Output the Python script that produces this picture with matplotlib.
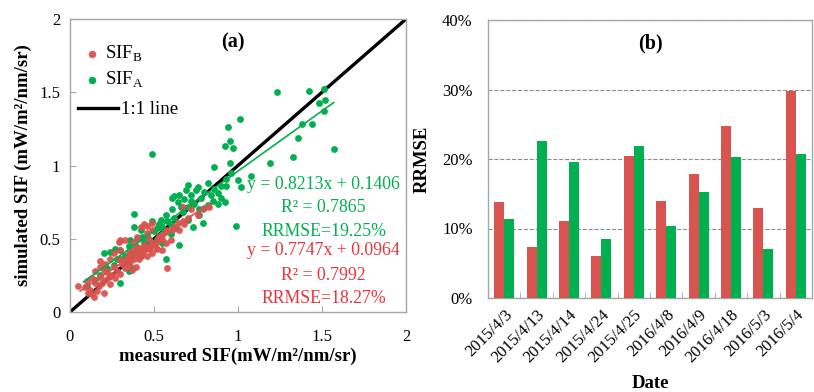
import matplotlib
matplotlib.use("Agg")
import matplotlib.pyplot as plt
import numpy as np
from matplotlib.ticker import PercentFormatter

plt.rcParams['font.family'] = ['Liberation Serif', 'DejaVu Serif']
plt.rcParams['mathtext.fontset'] = 'custom'
plt.rcParams['mathtext.rm'] = 'Liberation Serif'

RED = '#d9534f'
GREEN = '#00b050'
EDGE = '#a6a6a6'

# --- panel (a): measured vs simulated SIF ---
sif_a = [
    (0.49, 1.08), (1.23, 1.50), (1.42, 1.51), (1.51, 1.52), (1.52, 1.45), (1.48, 1.43),
    (1.51, 1.37), (1.38, 1.28), (1.44, 1.28), (1.36, 1.19), (1.33, 1.06), (1.19, 1.02),
    (1.57, 1.11), (1.01, 1.32), (0.94, 1.26), (0.95, 1.17), (0.92, 1.13), (0.97, 1.12),
    (0.95, 1.02), (0.86, 0.99), (0.96, 0.95), (1.00, 0.90), (1.08, 0.93), (1.02, 0.85),
    (0.93, 0.91), (0.99, 0.59),
    (0.70, 0.87), (0.76, 0.85), (0.82, 0.88), (0.69, 0.83), (0.62, 0.79), (0.61, 0.78),
    (0.65, 0.80), (0.72, 0.80), (0.75, 0.83), (0.78, 0.78), (0.80, 0.82), (0.84, 0.80),
    (0.86, 0.84), (0.88, 0.81), (0.90, 0.78), (0.92, 0.75), (0.85, 0.76), (0.82, 0.73),
    (0.88, 0.74), (0.90, 0.86), (0.93, 0.86), (0.80, 0.71), (0.77, 0.70), (0.74, 0.74),
    (0.70, 0.72), (0.67, 0.68), (0.61, 0.70), (0.64, 0.75), (0.77, 0.66), (0.79, 0.61),
    (0.73, 0.58), (0.70, 0.63), (0.65, 0.46), (0.57, 0.36),
    (0.55, 0.58), (0.54, 0.63), (0.49, 0.62), (0.38, 0.67), (0.38, 0.58), (0.43, 0.51),
    (0.36, 0.49), (0.30, 0.42), (0.24, 0.41), (0.20, 0.40), (0.30, 0.36), (0.37, 0.30),
    (0.30, 0.20), (0.10, 0.18), (0.42, 0.38), (0.45, 0.45), (0.48, 0.48), (0.52, 0.50),
    (0.55, 0.53), (0.58, 0.55), (0.60, 0.60), (0.57, 0.66), (0.52, 0.57), (0.47, 0.44),
    (0.44, 0.48), (0.40, 0.44), (0.35, 0.45), (0.33, 0.38), (0.28, 0.36), (0.26, 0.32),
    (0.22, 0.30), (0.18, 0.25), (0.15, 0.22), (0.50, 0.55), (0.53, 0.60), (0.58, 0.62),
    (0.62, 0.64), (0.66, 0.72), (0.68, 0.77), (0.72, 0.76), (0.35, 0.28), (0.42, 0.56),
    (0.46, 0.52), (0.40, 0.50), (0.38, 0.40), (0.27, 0.43), (0.55, 0.47), (0.60, 0.53),
    (0.63, 0.57),
]
sif_b = [
    (0.05, 0.18), (0.09, 0.17), (0.12, 0.15), (0.14, 0.10), (0.13, 0.12), (0.20, 0.13),
    (0.15, 0.20), (0.18, 0.24), (0.22, 0.27), (0.20, 0.29), (0.18, 0.35), (0.26, 0.31),
    (0.29, 0.36), (0.30, 0.42), (0.29, 0.48), (0.33, 0.49), (0.35, 0.40), (0.40, 0.42),
    (0.40, 0.51), (0.46, 0.54), (0.49, 0.56), (0.54, 0.51), (0.36, 0.34), (0.39, 0.31),
    (0.37, 0.29), (0.42, 0.38), (0.58, 0.30), (0.60, 0.49), (0.61, 0.56), (0.64, 0.61),
    (0.67, 0.62), (0.70, 0.64), (0.76, 0.66), (0.79, 0.70), (0.49, 0.61), (0.46, 0.59),
    (0.67, 0.72), (0.72, 0.70), (0.83, 0.72),
    (0.32, 0.35), (0.34, 0.37), (0.36, 0.38), (0.38, 0.36), (0.40, 0.39), (0.41, 0.36),
    (0.43, 0.40), (0.44, 0.42), (0.45, 0.44), (0.47, 0.43), (0.48, 0.46), (0.50, 0.47),
    (0.52, 0.48), (0.51, 0.44), (0.53, 0.52), (0.55, 0.50), (0.56, 0.54), (0.44, 0.46),
    (0.42, 0.44), (0.39, 0.45), (0.37, 0.42), (0.35, 0.32), (0.33, 0.30), (0.31, 0.33),
    (0.28, 0.28), (0.25, 0.25), (0.23, 0.24), (0.21, 0.22), (0.19, 0.20), (0.17, 0.18),
    (0.16, 0.14), (0.11, 0.13), (0.10, 0.21), (0.24, 0.19), (0.27, 0.23), (0.30, 0.26),
    (0.44, 0.60), (0.42, 0.58), (0.47, 0.50), (0.49, 0.40), (0.46, 0.38), (0.52, 0.43),
    (0.57, 0.47), (0.58, 0.56), (0.62, 0.58), (0.65, 0.56), (0.68, 0.60), (0.55, 0.42),
    (0.38, 0.48), (0.30, 0.49), (0.26, 0.40), (0.24, 0.36), (0.21, 0.33), (0.18, 0.31),
    (0.15, 0.28), (0.13, 0.23),
]
fit_a = (0.8213, 0.1406, 0.7865, 19.25)   # slope, intercept, R2, RRMSE%
fit_b = (0.7747, 0.0964, 0.7992, 18.27)
fit_a_range = (0.08, 1.57)
fit_b_range = (0.06, 0.83)

# --- panel (b): RRMSE by date ---
dates = ['2015/4/3', '2015/4/13', '2015/4/14', '2015/4/24', '2015/4/25',
         '2016/4/8', '2016/4/9', '2016/4/18', '2016/5/3', '2016/5/4']
rrmse_b = [13.8, 7.4, 11.1, 6.0, 20.5, 13.9, 17.8, 24.8, 12.9, 29.8]
rrmse_a = [11.3, 22.6, 19.5, 8.5, 21.9, 10.3, 15.3, 20.3, 7.0, 20.7]

fig = plt.figure(figsize=(8.14, 3.92), dpi=100)

# ---------------- (a) ----------------
ax = fig.add_axes([70 / 814, 80 / 392, 336 / 814, 293 / 392])
ga = np.array(sif_a)
gb = np.array(sif_b)
one, = ax.plot([0, 2], [0, 2], color='black', lw=2.4, zorder=2, label='1:1 line')
sa = ax.scatter(ga[:, 0], ga[:, 1], s=24, color=GREEN, lw=0, zorder=3, label=r'SIF$_\mathrm{A}$')
sb = ax.scatter(gb[:, 0], gb[:, 1], s=24, color=RED, lw=0, alpha=0.95, zorder=4, label=r'SIF$_\mathrm{B}$')
xa = np.array(fit_a_range)
ax.plot(xa, fit_a[0] * xa + fit_a[1], color=GREEN, lw=1.2, zorder=5)
xb = np.array(fit_b_range)
ax.plot(xb, fit_b[0] * xb + fit_b[1], color=RED, lw=1.2, zorder=5)

ax.set_xlim(0, 2)
ax.set_ylim(0, 2)
ax.set_xticks([0, 0.5, 1, 1.5, 2])
ax.set_yticks([0, 0.5, 1, 1.5, 2])
ax.set_xticklabels(['0', '0.5', '1', '1.5', '2'])
ax.set_yticklabels(['0', '0.5', '1', '1.5', '2'])
ax.tick_params(direction='in', length=4, color=EDGE, labelsize=12)
ax.tick_params(axis='x', pad=12)
ax.tick_params(axis='y', pad=7)
for s in ax.spines.values():
    s.set_color(EDGE)
    s.set_linewidth(1.0)
ax.set_xlabel('measured SIF(mW/m²/nm/sr)', fontsize=13.5, fontweight='bold', labelpad=2)
ax.set_ylabel('simulated SIF (mW/m²/nm/sr)', fontsize=13.5, fontweight='bold', labelpad=5)
ax.text(0.97, 1.84, '(a)', fontsize=14.5, fontweight='bold', ha='center', va='center')

leg1 = ax.legend([sb, sa], [sb.get_label(), sa.get_label()], loc='upper left',
                 frameon=False, fontsize=13.5, handlelength=0.8, handletextpad=0.3,
                 labelspacing=0.3, borderpad=0, borderaxespad=0,
                 bbox_to_anchor=(0.043, 0.916), markerscale=1.1)
ax.add_artist(leg1)
ax.legend([one], ['1:1 line'], loc='upper left', frameon=False, fontsize=13.5,
          handlelength=2.13, handletextpad=0.15, borderpad=0, borderaxespad=0,
          bbox_to_anchor=(0.024, 0.72))

tx = 1.51
fs = 12.8
ax.text(tx, 0.87, f'y = {fit_a[0]:.4f}x + {fit_a[1]:.4f}', color=GREEN, fontsize=fs, ha='center', va='center')
ax.text(tx, 0.71, f'R² = {fit_a[2]:.4f}', color=GREEN, fontsize=fs, ha='center', va='center')
ax.text(tx, 0.55, f'RRMSE={fit_a[3]:.2f}%', color=GREEN, fontsize=fs, ha='center', va='center')
ax.text(tx, 0.42, f'y = {fit_b[0]:.4f}x + {fit_b[1]:.4f}', color='#e8333a', fontsize=fs, ha='center', va='center')
ax.text(tx, 0.25, f'R² = {fit_b[2]:.4f}', color='#e8333a', fontsize=fs, ha='center', va='center')
ax.text(tx, 0.09, f'RRMSE={fit_b[3]:.2f}%', color='#e8333a', fontsize=fs, ha='center', va='center')

# ---------------- (b) ----------------
bx = fig.add_axes([488 / 814, 94 / 392, 324 / 814, 278 / 392])
pos = np.arange(len(dates))
w = 0.31
bx.bar(pos - w / 2, rrmse_b, width=w, color=RED, zorder=3)
bx.bar(pos + w / 2, rrmse_a, width=w, color=GREEN, zorder=3)
bx.set_xlim(-0.5, len(dates) - 0.5)
bx.set_ylim(0, 40)
bx.set_yticks([0, 10, 20, 30, 40])
bx.yaxis.set_major_formatter(PercentFormatter(decimals=0))
bx.yaxis.grid(True, linestyle='--', color='#8c8c8c', lw=0.8)
bx.tick_params(axis='y', length=0, labelsize=12, pad=11)
bx.set_xticks(pos)
bx.set_xticklabels(dates, rotation=45, ha='right', rotation_mode='anchor', fontsize=12)
bx.tick_params(axis='x', which='major', length=0, pad=6)
bx.set_xticks(pos[:-1] + 0.5, minor=True)
bx.tick_params(axis='x', which='minor', direction='in', length=4, color=EDGE)
for s in bx.spines.values():
    s.set_color(EDGE)
    s.set_linewidth(1.0)
bx.set_ylabel('RRMSE', fontsize=13.5, fontweight='bold', labelpad=8)
bx.set_xlabel('Date', fontsize=13.5, fontweight='bold', labelpad=7)
bx.text(0.5, 0.915, '(b)', transform=bx.transAxes, fontsize=14.5, fontweight='bold', ha='center', va='center')

fig.savefig('out.png', dpi=100)
